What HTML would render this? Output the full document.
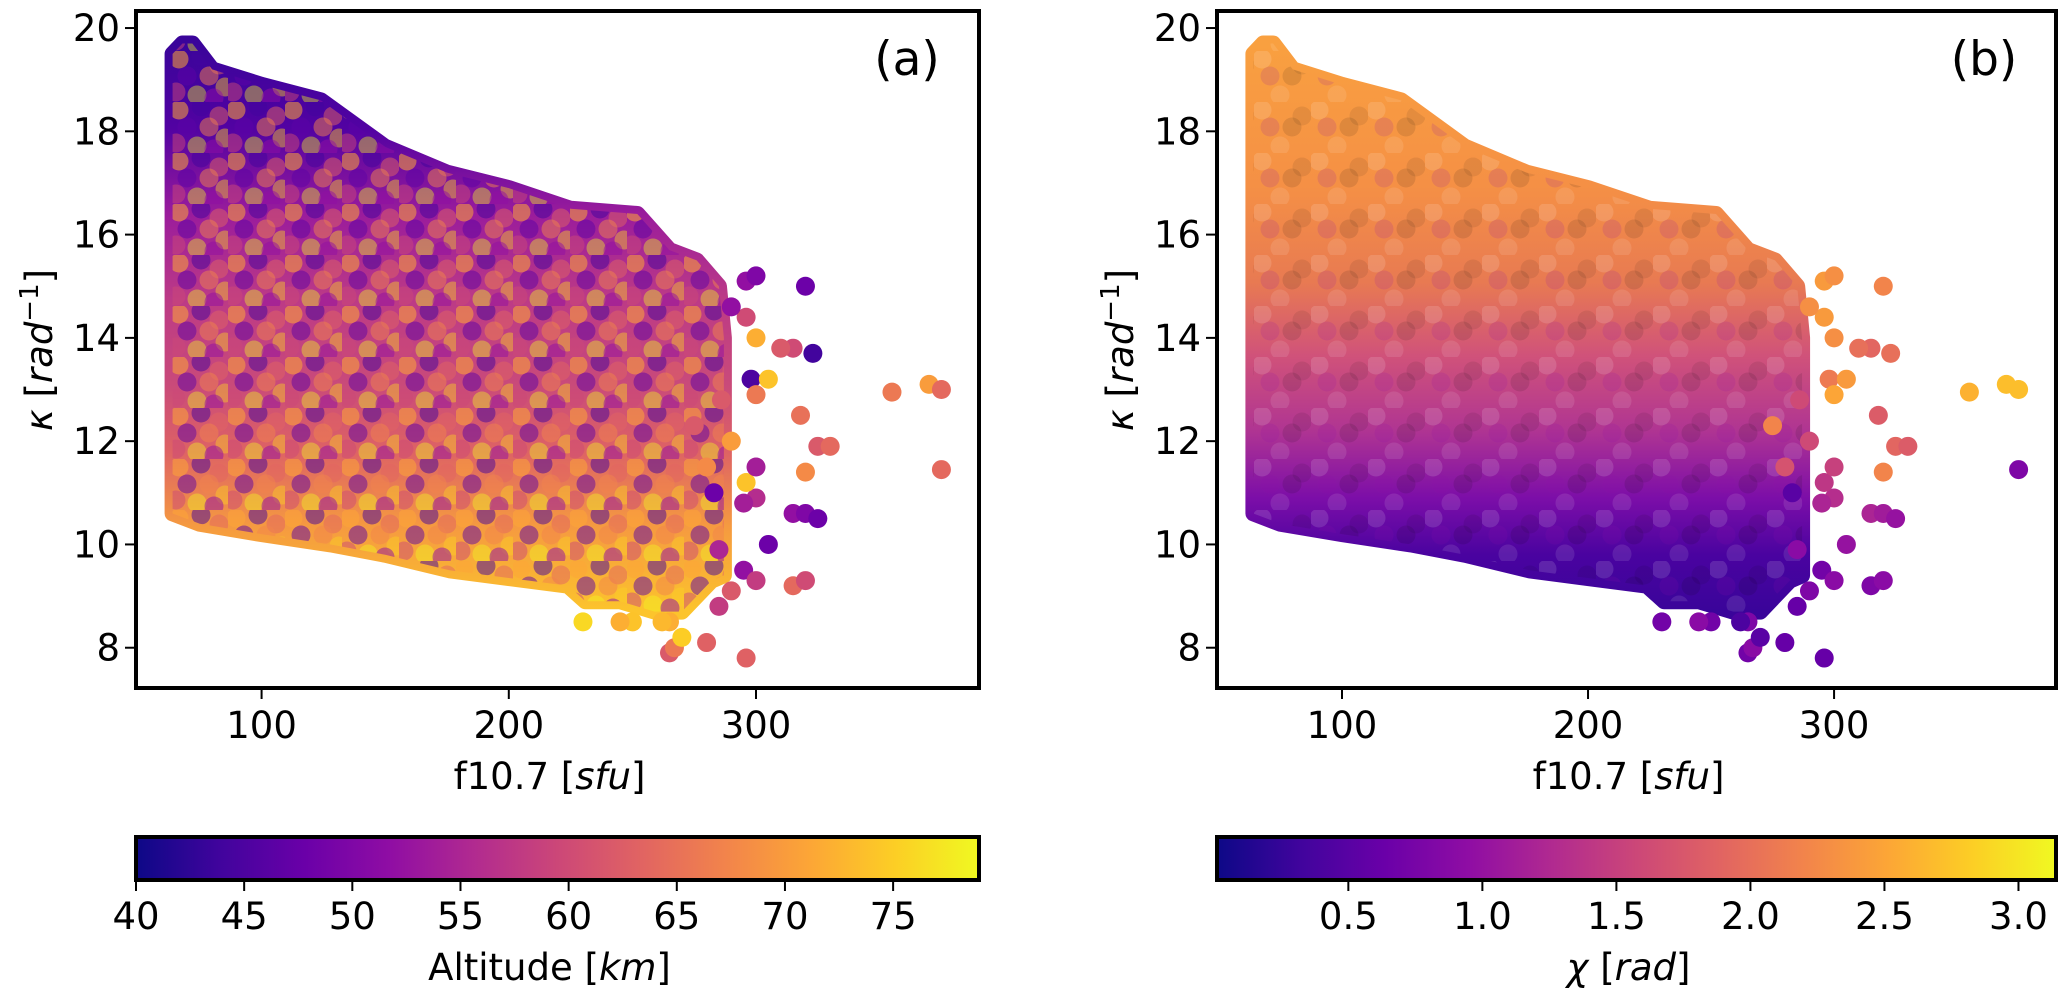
<!DOCTYPE html>
<html><head><meta charset="utf-8">
<style>
html,body{margin:0;padding:0;background:#fff;}
svg{display:block;font-family:"DejaVu Sans","Liberation Sans",sans-serif;}
</style></head>
<body>
<svg id="fig" width="2067" height="992" viewBox="0 0 2067 992" xmlns="http://www.w3.org/2000/svg">
<defs>
<linearGradient id="plasmaH" x1="0" y1="0" x2="1" y2="0">
<stop offset="0" stop-color="#0d0887"/><stop offset="0.1" stop-color="#41049d"/><stop offset="0.2" stop-color="#6a00a8"/><stop offset="0.3" stop-color="#8f0da4"/><stop offset="0.4" stop-color="#b12a90"/><stop offset="0.5" stop-color="#cc4778"/><stop offset="0.6" stop-color="#e16462"/><stop offset="0.7" stop-color="#f2844b"/><stop offset="0.8" stop-color="#fca636"/><stop offset="0.9" stop-color="#fcce25"/><stop offset="1" stop-color="#f0f921"/>
</linearGradient>
<pattern id="texA" patternUnits="userSpaceOnUse" width="57" height="51">
<circle cx="8" cy="8" r="9.5" fill="#fca636" fill-opacity="0.55"/><circle cx="30" cy="5" r="9.5" fill="#41049d" fill-opacity="0.5"/><circle cx="48" cy="14" r="9.5" fill="#e16462" fill-opacity="0.5"/>
<circle cx="16" cy="25" r="9.5" fill="#5c01a6" fill-opacity="0.5"/><circle cx="38" cy="25" r="9.5" fill="#f2844b" fill-opacity="0.5"/><circle cx="54" cy="36" r="9.5" fill="#fcce25" fill-opacity="0.45"/>
<circle cx="5" cy="41" r="9.5" fill="#cc4778" fill-opacity="0.5"/><circle cx="26" cy="44" r="9.5" fill="#f0f921" fill-opacity="0.4"/><circle cx="43" cy="47" r="9.5" fill="#8f0da4" fill-opacity="0.5"/>
</pattern>
<pattern id="texB" patternUnits="userSpaceOnUse" width="57" height="51">
<circle cx="8" cy="8" r="9.5" fill="#fff" fill-opacity="0.13"/><circle cx="38" cy="25" r="9.5" fill="#000" fill-opacity="0.1"/><circle cx="26" cy="44" r="9.5" fill="#fff" fill-opacity="0.1"/><circle cx="48" cy="14" r="9.5" fill="#000" fill-opacity="0.08"/><circle cx="16" cy="25" r="9.5" fill="#8f0da4" fill-opacity="0.15"/>
</pattern>
</defs>
<g id="root"></g>
</svg>
<script>
// ---- data ----
const envTopF = [64, 68, 72, 80, 100, 124, 150, 175, 200, 225, 252, 265, 276, 285, 287];
const envTopK = [19.5, 19.7, 19.7, 19.2, 18.9, 18.6, 17.7, 17.2, 16.9, 16.5, 16.4, 15.7, 15.5, 15.0, 14.0];
const envBotF = [287, 282, 270, 259, 245, 231, 224, 200, 176, 150, 128, 100, 75, 64];
const envBotK = [9.4, 9.3, 8.7, 8.7, 8.9, 8.9, 9.2, 9.35, 9.5, 9.8, 10.0, 10.2, 10.4, 10.6];
const outF = [296,300,320,323,315,318,325,330,320,298,300,305,310,355,370,375,375,296,265,267,280,265,250,245,230,290,285,295,300,315,320,305,315,320,325,300,295,296,283,285,290,300,275,280,286,300,296,290,270,262];
const outK = [15.1,15.2,15.0,13.7,13.8,12.5,11.9,11.9,11.4,13.2,12.9,13.2,13.8,12.95,13.1,13.0,11.45,7.8,7.9,8.0,8.1,8.5,8.5,8.5,8.5,9.1,8.8,9.5,9.3,9.2,9.3,10.0,10.6,10.6,10.5,10.9,10.8,11.2,11.0,9.9,12.0,11.5,12.3,11.5,12.8,14.0,14.4,14.6,8.2,8.5];
const outAlt = [52,50,48,44,60,65,62,64,68,45,66,74,62,66,70,64,64,63,62,66,63,72,74,72,76,62,58,52,58,64,60,48,52,50,48,56,54,74,48,55,70,54,62,68,62,72,60,52,75,73];
const outChi = [2.4,2.3,2.2,2.0,1.9,1.8,1.9,1.8,2.2,2.1,2.5,2.4,2.0,2.6,2.7,2.7,0.8,0.6,0.7,0.9,0.6,0.8,0.7,0.9,0.7,0.8,0.6,0.7,0.9,0.8,0.9,1.0,1.2,1.1,1.0,1.3,1.2,1.4,0.5,0.9,1.6,1.5,2.2,1.7,1.6,2.3,2.4,2.3,0.5,0.4];
const xTicks = [100, 200, 300];
const yTicks = [8, 10, 12, 14, 16, 18, 20];
const altTicks = [40, 45, 50, 55, 60, 65, 70, 75];
const chiTicks = [0.5, 1.0, 1.5, 2.0, 2.5, 3.0];

const NS = "http://www.w3.org/2000/svg";
const root = document.getElementById('root');
function mk(tag, attrs, parent) {
  const e = document.createElementNS(NS, tag);
  for (const k in attrs) e.setAttribute(k, attrs[k]);
  (parent || root).appendChild(e);
  return e;
}
const stops = ["#0d0887","#41049d","#6a00a8","#8f0da4","#b12a90","#cc4778","#e16462","#f2844b","#fca636","#fcce25","#f0f921"];
function hex(c){return [parseInt(c.substr(1,2),16),parseInt(c.substr(3,2),16),parseInt(c.substr(5,2),16)];}
function plasma(t){
  t=Math.max(0,Math.min(1,t)); const p=t*10, i=Math.min(9,Math.floor(p)), f=p-i;
  const a=hex(stops[i]), b=hex(stops[i+1]);
  return 'rgb('+a.map((v,j)=>Math.round(v+(b[j]-v)*f)).join(',')+')';
}
const fMin = 49.2, fMax = 390.2, kMin = 7.22, kMax = 20.33;
const top_ = 11, bot = 688;
const FS = 37;
function makePanel(L, R, label, isB) {
  const g = mk('g', {});
  
  
  const X = f => L + (f - fMin) / (fMax - fMin) * (R - L);
  const Y = k => bot - (k - kMin) / (kMax - kMin) * (bot - top_);
  const pts = [];
  envTopF.forEach((f,i)=>pts.push(X(f)+','+Y(envTopK[i])));
  envBotF.forEach((f,i)=>pts.push(X(f)+','+Y(envBotK[i])));
  const gid = (isB?'gb':'ga');
  const grad = mk('linearGradient', {id: gid, gradientUnits:'userSpaceOnUse', x1:0, y1:Y(19.7), x2:0, y2:Y(8.7)}, document.querySelector('defs'));
  const gs = isB
    ? [[0,'#f9a040'],[0.25,'#f59045'],[0.42,'#e87a52'],[0.55,'#d0527a'],[0.68,'#b03592'],[0.8,'#7c0ea8'],[0.9,'#4a03a0'],[1,'#3a049a']]
    : [[0,'#3a049a'],[0.15,'#5202a2'],[0.3,'#9a1c9c'],[0.45,'#bc3a86'],[0.6,'#c94a7a'],[0.72,'#de6364'],[0.85,'#f59a40'],[1,'#fcc42c']];
  gs.forEach(s=>mk('stop',{offset:s[0],'stop-color':s[1]},grad));
  const cloud = mk('polygon', {points: pts.join(' '), fill: 'url(#'+gid+')', stroke: 'url(#'+gid+')', 'stroke-width': 16, 'stroke-linejoin':'round'}, g);
  
  
  const ov = mk('polygon', {points: pts.join(' '), fill: isB ? 'url(#texB)' : 'url(#texA)'}, g);
  
  
  outF.forEach((f,i)=>{
    const c = isB ? plasma(outChi[i]/3.14) : plasma((outAlt[i]-40)/39);
    const p = mk('circle', {cx: X(f), cy: Y(outK[i]), r: 9.5, fill: c}, g);
    
    
  });
  const fr = mk('rect', {x:L, y:top_, width:R-L, height:bot-top_, fill:'none', stroke:'#000', 'stroke-width':4}, g);
  
  
  xTicks.forEach(t=>{
    const x = X(t);
    mk('line',{x1:x,x2:x,y1:bot,y2:bot+11,stroke:'#000','stroke-width':2},g);
    const tx = mk('text',{x:x,y:738,'font-size':FS,'text-anchor':'middle'},g);
    tx.textContent = t;
    
    
  });
  yTicks.forEach(t=>{
    const y = Y(t);
    mk('line',{x1:L-11,x2:L,y1:y,y2:y,stroke:'#000','stroke-width':2},g);
    const tx = mk('text',{x:L-16,y:y+13,'font-size':FS,'text-anchor':'end'},g);
    tx.textContent = t;
    
    
  });
  const xl = mk('text',{x:(L+R)/2-8,y:789,'font-size':FS,'text-anchor':'middle'},g);
  xl.innerHTML = 'f10.7 [<tspan font-style="italic">sfu</tspan>]';
  
  
  const yl = mk('text',{x:0,y:0,'font-size':FS,'text-anchor':'middle',transform:'translate('+(L-84)+',350) rotate(-90)'},g);
  yl.innerHTML = '<tspan font-style="italic">κ</tspan> [<tspan font-style="italic">rad</tspan><tspan dy="-14" font-size="26">−1</tspan><tspan dy="14">]</tspan>';
  
  
  const pl = mk('text',{x:R-72,y:75,'font-size':47,'text-anchor':'middle'},g);
  pl.textContent = label;
  
  
}
function makeColorbar(L, R, vmin, vmax, ticks, fmt, titleHTML, name) {
  const g = mk('g', {});
  
  
  const T = 837, B = 880;
  const r = mk('rect',{x:L,y:T,width:R-L,height:B-T,fill:'url(#plasmaH)',stroke:'#000','stroke-width':4},g);
  
  
  ticks.forEach(t=>{
    const x = L + (t - vmin)/(vmax - vmin)*(R-L);
    mk('line',{x1:x,x2:x,y1:B,y2:B+11,stroke:'#000','stroke-width':2},g);
    const tx = mk('text',{x:x,y:929,'font-size':FS,'text-anchor':'middle'},g);
    tx.textContent = fmt(t);
    
    
  });
  const tl = mk('text',{x:(L+R)/2-8,y:980,'font-size':FS,'text-anchor':'middle'},g);
  tl.innerHTML = titleHTML;
  
  
}
makePanel(136, 979, '(a)', false);
makePanel(1217, 2056, '(b)', true);
makeColorbar(136, 979, 40, 78.97, altTicks, t=>String(t), 'Altitude [<tspan font-style="italic">km</tspan>]', 'colorbar-altitude');
makeColorbar(1217, 2056, 0.01, 3.14, chiTicks, t=>t.toFixed(1), '<tspan font-style="italic">χ</tspan> [<tspan font-style="italic">rad</tspan>]', 'colorbar-chi');
</script>
</body></html>
